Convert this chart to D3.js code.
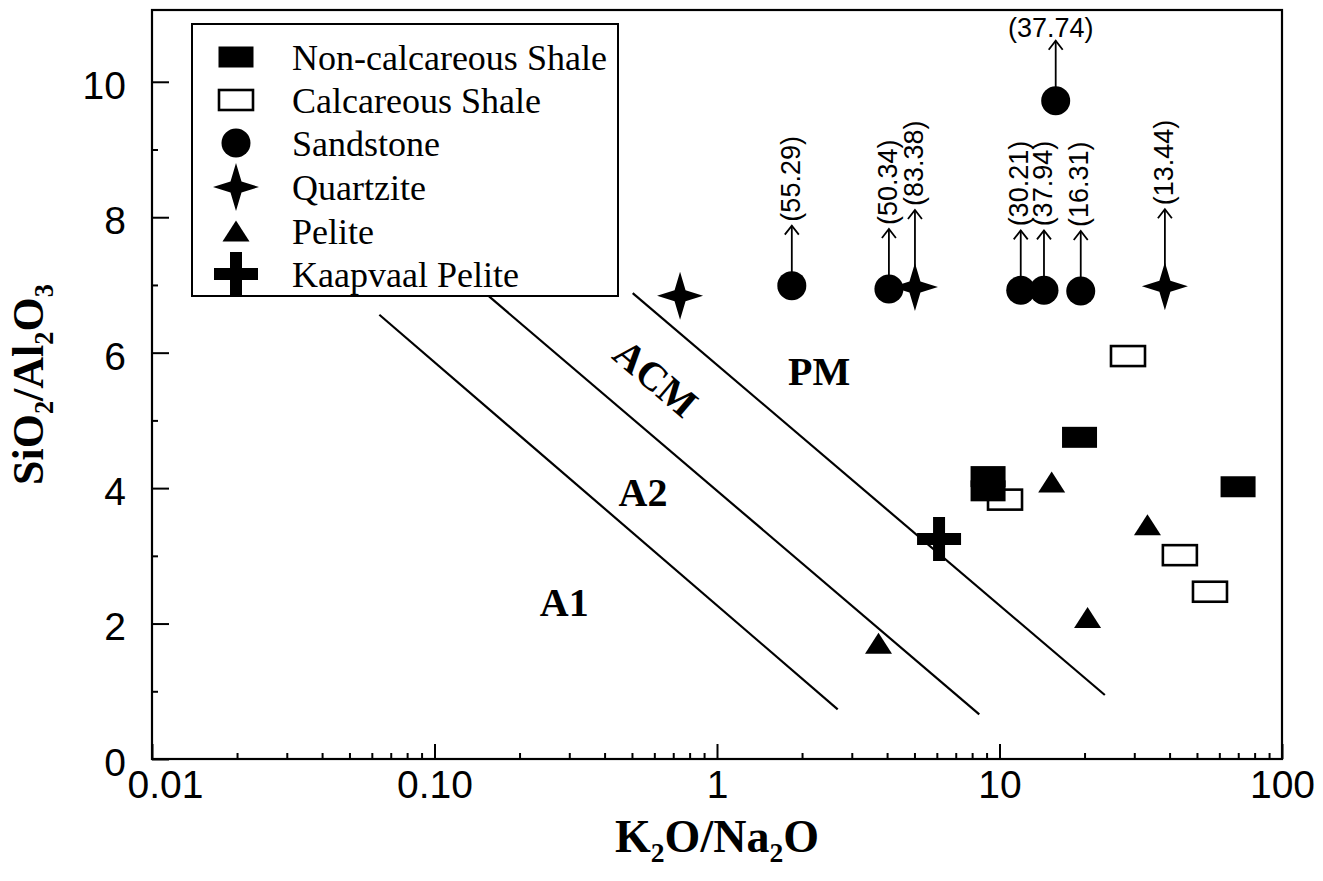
<!DOCTYPE html>
<html>
<head>
<meta charset="utf-8">
<script src="https://cdn.jsdelivr.net/npm/d3@7"></script>
<style>
  html, body { margin: 0; padding: 0; background: #fff; }
  svg { display: block; }
</style>
</head>
<body>
<svg id="chart" width="1323" height="881"></svg>
<script>
// ---- Data: K2O/Na2O (x, log) vs SiO2/Al2O3 (y) ----
const nonCalcareousShale = [[9.11, 4.17], [9.11, 3.96], [19.2, 4.75], [69.9, 4.02]];
const calcareousShale    = [[28.5, 5.95], [10.46, 3.83], [43.5, 3.01], [55.6, 2.47]];
const sandstone          = [[1.84, 6.99], [4.06, 6.94], [11.89, 6.92], [14.37, 6.92], [19.39, 6.91], [15.81, 9.72]];
const quartzite          = [[0.74, 6.84], [5.02, 6.97], [38.5, 6.98]];
const pelite             = [[3.73, 1.71], [15.3, 4.09], [33.4, 3.46], [20.5, 2.09]];
const kaapvaalPelite     = [[6.11, 3.25]];

// Off-scale SiO2/Al2O3 values written beside the arrows
const sandstoneLabels = ["(55.29)", "(50.34)", "(30.21)", "(37.94)", "(16.31)", "(37.74)"];
const quartziteLabels = [null, "(83.38)", "(13.44)"];

// Tectonic-setting boundary lines: [x1, y1, x2, y2]
const boundaries = [
  [0.0638, 6.56, 2.675, 0.734],
  [0.156, 6.83, 8.48, 0.66],
  [0.503, 6.88, 23.6, 0.945]
];
const fieldNames = ["A1", "A2", "ACM", "PM"];
const fieldCentres = [[0.288, 2.32], [0.547, 3.94], [0.608, 5.63], [2.30, 5.73]];

const xTickValues = [0.01, 0.1, 1, 10, 100];
const xTickLabels = ["0.01", "0.10", "1", "10", "100"];
const yTickValues = [0, 2, 4, 6, 8, 10];
const yTickLabels = ["0", "2", "4", "6", "8", "10"];
const yMinorTicks = [1, 3, 5, 7, 9];

const legendNames = ["Non-calcareous Shale", "Calcareous Shale", "Sandstone", "Quartzite", "Pelite", "Kaapvaal Pelite"];

// ---- Layout ----
const svg = d3.select("#chart");
const plotLeft = 152, plotRight = 1282, plotTop = 10, plotBottom = 759;
const x = d3.scaleLog().domain([0.01, 100]).range([plotLeft, plotRight]);
const y = d3.scaleLinear().domain([0, 11.06]).range([plotBottom, plotTop]);

const sans = "Arial, 'Liberation Sans', Helvetica, sans-serif";
const serif = "'Times New Roman', 'Liberation Serif', Times, serif";

// Marker shapes
function starPath(w, h, r) {
  return `M0,${-h} L${r},${-r} L${w},0 L${r},${r} L0,${h} L${-r},${r} L${-w},0 L${-r},${-r} Z`;
}
const markers = {
  filledRect: g => g.append("rect").attr("x", -17.5).attr("y", -10.5).attr("width", 35).attr("height", 21).attr("fill", "#000"),
  openRect: g => g.append("rect").attr("x", -17).attr("y", -10).attr("width", 34).attr("height", 20).attr("fill", "#fff").attr("stroke", "#000").attr("stroke-width", 2.6),
  circle: g => g.append("circle").attr("r", 14.5).attr("fill", "#000"),
  star: g => g.append("path").attr("d", starPath(23, 24, 5.5)).attr("fill", "#000"),
  triangle: g => g.append("path").attr("d", "M0,-10.5 L13.5,10.5 L-13.5,10.5 Z").attr("fill", "#000"),
  cross: g => g.append("path").attr("d", "M-6,-22 H6 V-6 H22 V6 H6 V22 H-6 V6 H-22 V-6 H-6 Z").attr("fill", "#000")
};

// ---- Axes (ticks point inward) ----
const xMinor = [];
[0.01, 0.1, 1, 10].forEach(d => { for (let k = 2; k <= 9; k++) xMinor.push(d * k); });

const gx = svg.append("g").attr("transform", `translate(0,${plotBottom})`)
  .call(d3.axisBottom(x).tickValues(xTickValues).tickSize(-15).tickPadding(11)
    .tickFormat((d, i) => xTickLabels[i]));
svg.append("g").attr("transform", `translate(0,${plotBottom})`)
  .call(d3.axisBottom(x).tickValues(xMinor).tickSize(-6).tickFormat(""));

const gy = svg.append("g").attr("transform", `translate(${plotLeft},0)`)
  .call(d3.axisLeft(y).tickValues(yTickValues).tickSize(-17).tickPadding(26)
    .tickFormat((d, i) => yTickLabels[i]));
svg.append("g").attr("transform", `translate(${plotLeft},0)`)
  .call(d3.axisLeft(y).tickValues(yMinorTicks).tickSize(-6).tickFormat(""));

svg.selectAll(".domain").remove();
svg.selectAll(".tick line").attr("stroke", "#000").attr("stroke-width", 2);
gx.selectAll("text").attr("font-family", sans).attr("font-size", 39).attr("fill", "#000")
  .attr("dx", (d, i) => i === 0 ? 13 : 0);   // keep the first label clear of the y-axis "0"
gy.selectAll("text").attr("font-family", sans).attr("font-size", 39).attr("fill", "#000").attr("dy", "0.42em");

// Frame
svg.append("rect").attr("x", plotLeft).attr("y", plotTop).attr("width", plotRight - plotLeft).attr("height", plotBottom - plotTop)
  .attr("fill", "none").attr("stroke", "#000").attr("stroke-width", 2.2);

// Axis titles with subscripts
function chemText(sel, parts, size) {
  parts.forEach(p => {
    if (p.sub) {
      sel.append("tspan").attr("font-size", size * 0.6).attr("dy", size * 0.22).text(p.t);
    } else {
      sel.append("tspan").attr("font-size", size).attr("dy", p.after ? -size * 0.22 : 0).text(p.t);
    }
  });
}
const xTitle = svg.append("text").attr("x", (plotLeft + plotRight) / 2).attr("y", 852)
  .attr("text-anchor", "middle").attr("font-family", serif).attr("font-weight", "bold");
chemText(xTitle, [{t: "K"}, {t: "2", sub: true}, {t: "O/Na", after: true}, {t: "2", sub: true}, {t: "O", after: true}], 46);

const yTitle = svg.append("text").attr("transform", `translate(43,${(plotTop + plotBottom) / 2}) rotate(-90)`)
  .attr("text-anchor", "middle").attr("font-family", serif).attr("font-weight", "bold");
chemText(yTitle, [{t: "SiO"}, {t: "2", sub: true}, {t: "/Al", after: true}, {t: "2", sub: true}, {t: "O", after: true}, {t: "3", sub: true}], 44);

// ---- Boundary lines ----
svg.append("g").selectAll("line").data(boundaries).join("line")
  .attr("x1", d => x(d[0])).attr("y1", d => y(d[1]))
  .attr("x2", d => x(d[2])).attr("y2", d => y(d[3]))
  .attr("stroke", "#000").attr("stroke-width", 2.2);

// Field names
const slope = Math.atan2(y(boundaries[2][3]) - y(boundaries[2][1]), x(boundaries[2][2]) - x(boundaries[2][0])) * 180 / Math.PI;
svg.append("g").selectAll("text").data(fieldNames).join("text")
  .attr("transform", (d, i) => `translate(${x(fieldCentres[i][0])},${y(fieldCentres[i][1])})` + (d === "ACM" ? ` rotate(${slope})` : ""))
  .attr("text-anchor", "middle").attr("dy", "0.35em")
  .attr("font-family", serif).attr("font-weight", "bold").attr("font-size", 40)
  .text(d => d);

// ---- Samples ----
function plotSeries(data, shape) {
  const g = svg.append("g");
  data.forEach(d => {
    const m = g.append("g").attr("transform", `translate(${x(d[0])},${y(d[1])})`);
    markers[shape](m);
  });
}

// Arrows with off-scale values
function arrowNotes(data, labels, reach) {
  const g = svg.append("g").attr("stroke", "#000").attr("stroke-width", 1.8).attr("fill", "none");
  data.forEach((d, i) => {
    const t = labels[i];
    if (!t) return;
    const px = x(d[0]), py = y(d[1]);
    const tipY = py - reach;
    g.append("line").attr("x1", px).attr("y1", py).attr("x2", px).attr("y2", tipY);
    g.append("path").attr("d", `M${px - 7},${tipY + 9} L${px},${tipY} L${px + 7},${tipY + 9}`);
    if (d[1] > 9) {
      svg.append("text").attr("x", px - 5).attr("y", tipY - 4)
        .attr("text-anchor", "middle").attr("font-family", sans).attr("font-size", 27).text(t);
    } else {
      svg.append("text").attr("transform", `translate(${px - 2},${tipY - 4}) rotate(-90)`)
        .attr("text-anchor", "start").attr("dy", "0.36em")
        .attr("font-family", sans).attr("font-size", 27).text(t);
    }
  });
}

plotSeries(sandstone, "circle");
plotSeries(quartzite, "star");
arrowNotes(sandstone, sandstoneLabels, 60);
arrowNotes(quartzite, quartziteLabels, 77);
plotSeries(calcareousShale, "openRect");
plotSeries(nonCalcareousShale, "filledRect");
plotSeries(pelite, "triangle");
plotSeries(kaapvaalPelite, "cross");

// ---- Legend ----
const legend = svg.append("g");
legend.append("rect").attr("x", 192).attr("y", 24).attr("width", 426).attr("height", 272)
  .attr("fill", "#fff").attr("stroke", "#000").attr("stroke-width", 2);
const legendShapes = ["filledRect", "openRect", "circle", "star", "triangle", "cross"];
const legendRowY = [57, 100, 143, 187, 231, 274];
legendNames.forEach((name, i) => {
  const m = legend.append("g").attr("transform", `translate(236,${legendRowY[i]})`);
  markers[legendShapes[i]](m);
  legend.append("text").attr("x", 292).attr("y", legendRowY[i]).attr("dy", "0.36em")
    .attr("font-family", serif).attr("font-size", 36).text(name);
});
</script>
</body>
</html>
